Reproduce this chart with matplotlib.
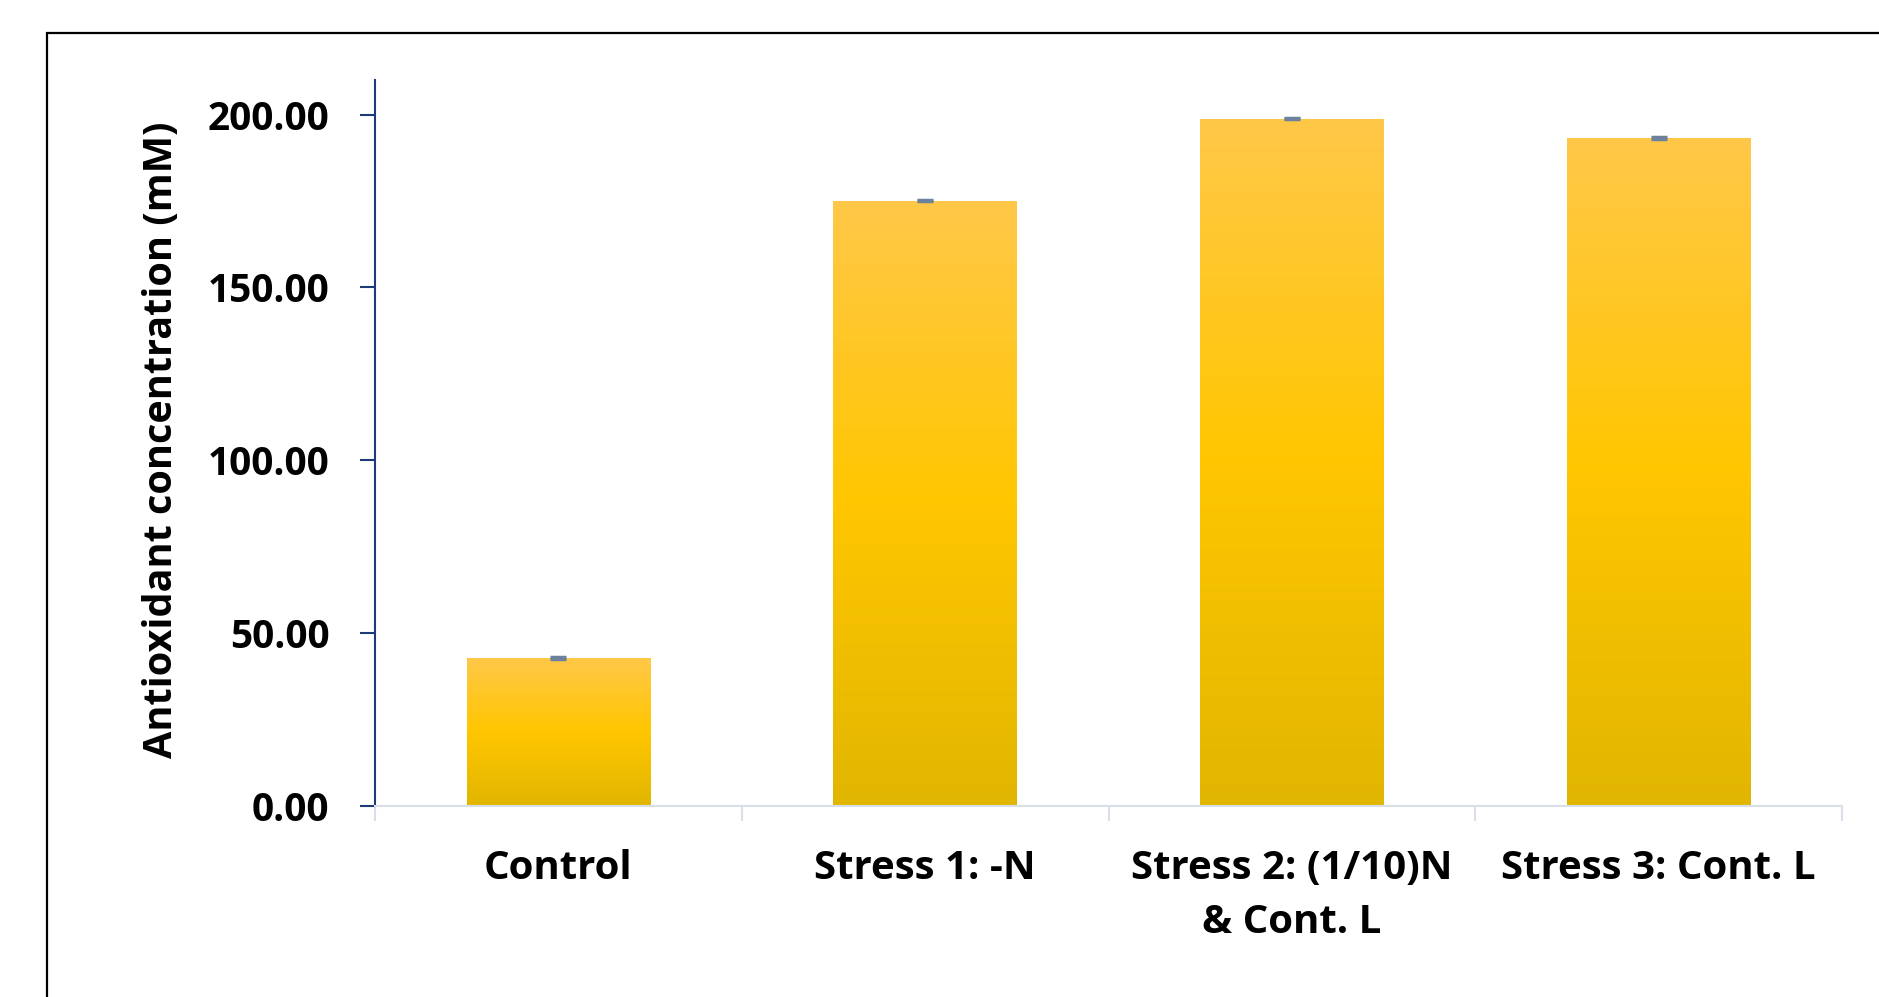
import numpy as np
import matplotlib
matplotlib.use("Agg")
import matplotlib.pyplot as plt
from matplotlib.colors import LinearSegmentedColormap
from matplotlib.patches import Rectangle

# Antioxidant concentration per treatment (mM) with standard errors
categories = ["Control", "Stress 1: -N", "Stress 2: (1/10)N\n& Cont. L", "Stress 3: Cont. L"]
concentration = [42.7, 175.1, 198.8, 193.3]
errors = [0.3, 0.2, 0.2, 0.3]
ytick_values = [0, 50, 100, 150, 200]
ytick_labels = ["0.00", "50.00", "100.00", "150.00", "200.00"]

plt.rcParams["font.family"] = ["Open Sans", "DejaVu Sans"]
plt.rcParams["font.weight"] = "bold"

W, H, DPI = 1879, 997, 100
fig = plt.figure(figsize=(W / DPI, H / DPI), dpi=DPI)
ax = fig.add_axes([375 / W, 1 - 806 / H, (1842 - 375) / W, (806 - 80) / H])

x = np.arange(len(categories))
bars = ax.bar(x, concentration, width=0.5, color="none", edgecolor="none", zorder=2)

# vertical gold gradient inside each bar
gold = LinearSegmentedColormap.from_list(
    "gold", [(0.0, "#E1B600"), (0.5, "#FFC600"), (1.0, "#FFC848")])
grad = np.linspace(0, 1, 256).reshape(-1, 1)
for b in bars:
    x0, w, h = b.get_x(), b.get_width(), b.get_height()
    im = ax.imshow(grad, cmap=gold, origin="lower", aspect="auto",
                   extent=(x0, x0 + w, 0, h), zorder=2, interpolation="bilinear")
    im.set_clip_path(b)

ax.errorbar(x, concentration, yerr=errors, fmt="none", ecolor="#6C819E",
            elinewidth=1.0, capsize=6, capthick=2.5, zorder=3)

ax.set_xlim(-0.5, len(categories) - 0.5)
ax.set_ylim(0, 210)

ax.set_yticks(ytick_values)
ax.set_yticklabels(ytick_labels)
ax.set_xticks(x)
ax.set_xticklabels(categories, linespacing=1.5)
ax.set_xticks(np.arange(-0.5, len(categories), 1.0), minor=True)

navy = "#1F3A7A"
light = "#D9DFEA"
for s in ("top", "right"):
    ax.spines[s].set_visible(False)
ax.spines["left"].set_color(navy)
ax.spines["left"].set_linewidth(1.5)
ax.spines["bottom"].set_color(light)
ax.spines["bottom"].set_linewidth(1.5)

ax.tick_params(axis="y", direction="out", length=10.8, width=1.5, color=navy,
               labelsize=28, pad=22, labelcolor="black")
ax.tick_params(axis="x", which="major", length=0, labelsize=29, pad=31)
ax.tick_params(axis="x", which="minor", length=11, width=1.5, color=light)
for t in ax.get_yticklabels() + ax.get_xticklabels():
    t.set_fontweight("bold")

fig.text(162 / W, 1 - 440 / H, "Antioxidant concentration (mM)", rotation=90,
         ha="center", va="center", fontsize=28.5, fontweight="bold")

# outer chart border, running off the right and bottom edges
fig.patches.append(Rectangle((47 / W, -0.05), 1.0, 1 - 33 / H + 0.05,
                             transform=fig.transFigure, fill=False,
                             edgecolor="black", linewidth=1.6))

fig.savefig("out.png", dpi=DPI, facecolor="white")
